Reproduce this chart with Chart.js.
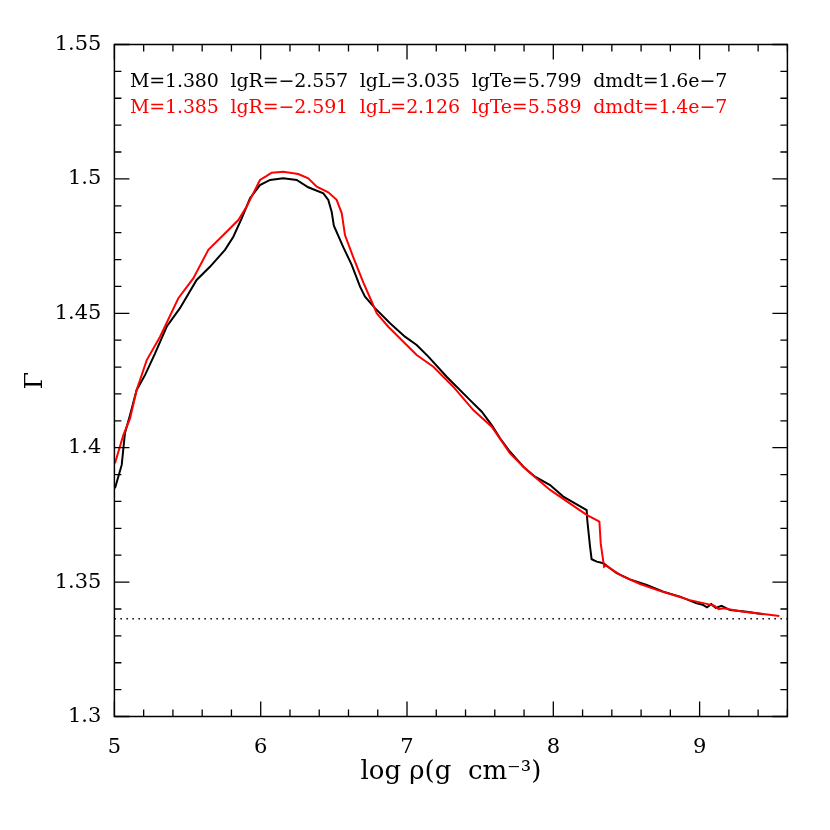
<!DOCTYPE html>
<html>
<head>
<meta charset="utf-8">
<script src="https://cdn.jsdelivr.net/npm/chart.js@4"></script>
<style>
  html, body { margin: 0; padding: 0; background: #fff; }
  #wrap { width: 830px; height: 830px; }
</style>
</head>
<body>
<div id="wrap"><canvas id="myChart" width="830" height="830"></canvas></div>
<script>
// log rho values and Gamma
const blackX = [5.004, 5.05, 5.072, 5.107, 5.152, 5.209, 5.278, 5.357, 5.448, 5.562, 5.653, 5.756, 5.813, 5.87, 5.927, 5.995, 6.064, 6.154, 6.246, 6.325, 6.428, 6.462, 6.485, 6.5, 6.565, 6.622, 6.679, 6.713, 6.781, 6.884, 6.986, 7.066, 7.146, 7.271, 7.431, 7.511, 7.579, 7.636, 7.704, 7.795, 7.875, 7.978, 8.068, 8.228, 8.232, 8.251, 8.262, 8.297, 8.342, 8.433, 8.524, 8.638, 8.752, 8.866, 8.98, 9.02, 9.05, 9.08, 9.11, 9.15, 9.208, 9.322, 9.435];
const blackY = [1.3849, 1.3936, 1.4054, 1.4122, 1.4215, 1.427, 1.4351, 1.445, 1.4519, 1.4624, 1.4673, 1.4736, 1.4785, 1.4853, 1.4928, 1.4977, 1.4996, 1.5002, 1.4996, 1.4969, 1.4946, 1.4922, 1.4878, 1.4826, 1.4745, 1.468, 1.4599, 1.4562, 1.4519, 1.4463, 1.4413, 1.4382, 1.4339, 1.4264, 1.4177, 1.4134, 1.4084, 1.4035, 1.3985, 1.3929, 1.3892, 1.3861, 1.3818, 1.3768, 1.3731, 1.3632, 1.3585, 1.3576, 1.357, 1.3533, 1.351, 1.3489, 1.3464, 1.3446, 1.3421, 1.3416, 1.3406, 1.3418, 1.3404, 1.3412, 1.3396, 1.339, 1.338];

const redX = [5.004, 5.061, 5.107, 5.152, 5.221, 5.312, 5.437, 5.539, 5.642, 5.779, 5.847, 5.904, 5.949, 5.995, 6.041, 6.075, 6.154, 6.257, 6.325, 6.383, 6.462, 6.519, 6.554, 6.576, 6.633, 6.701, 6.759, 6.793, 6.872, 6.975, 7.066, 7.18, 7.316, 7.453, 7.579, 7.704, 7.818, 7.978, 8.16, 8.228, 8.315, 8.324, 8.347, 8.36, 8.388, 8.479, 8.593, 8.707, 8.82, 8.934, 9.048, 9.1, 9.13, 9.162, 9.299, 9.435, 9.545];
const redY = [1.3942, 1.4047, 1.4109, 1.4215, 1.4326, 1.4413, 1.4556, 1.463, 1.4736, 1.481, 1.4847, 1.4897, 1.4946, 1.4996, 1.5011, 1.5023, 1.5027, 1.5018, 1.5002, 1.4971, 1.495, 1.4922, 1.4872, 1.4791, 1.4708, 1.4615, 1.4543, 1.45, 1.445, 1.4394, 1.4345, 1.4301, 1.4227, 1.414, 1.4078, 1.3979, 1.3917, 1.3843, 1.3775, 1.375, 1.3725, 1.3644, 1.3557, 1.3562, 1.3551, 1.352, 1.3493, 1.3471, 1.3452, 1.3433, 1.3419, 1.3412, 1.3399, 1.3403, 1.339, 1.3381, 1.3374];

// asymptotic Gamma dotted line
const asymX = [5, 9.6];
const asymY = [1.3364, 1.3364];

const xTickLabels = ["5", "6", "7", "8", "9"];
const yTickLabels = ["1.3", "1.35", "1.4", "1.45", "1.5", "1.55"];

const infoBlack = "M=1.380  lgR=\u22122.557  lgL=3.035  lgTe=5.799  dmdt=1.6e\u22127";
const infoRed = "M=1.385  lgR=\u22122.591  lgL=2.126  lgTe=5.589  dmdt=1.4e\u22127";

const FONT = "'DejaVu Serif', serif";

function pts(xs, ys) {
  return xs.map((x, i) => ({ x: x, y: ys[i] }));
}

function fmt(v) {
  return parseFloat(v.toFixed(2)).toString();
}

// inward ticks on all four sides plus the frame
const frameTicks = {
  id: "frameTicks",
  afterDraw(chart) {
    const ctx = chart.ctx;
    const a = chart.chartArea;
    const xs = chart.scales.x;
    const ys = chart.scales.y;
    ctx.save();
    ctx.strokeStyle = "#000";
    ctx.lineWidth = 1.3;
    ctx.beginPath();
    xs.ticks.forEach((t) => {
      const px = xs.getPixelForValue(t.value);
      const len = xTickLabels.includes(fmt(t.value)) ? 15 : 7;
      ctx.moveTo(px, a.bottom); ctx.lineTo(px, a.bottom - len);
      ctx.moveTo(px, a.top); ctx.lineTo(px, a.top + len);
    });
    ys.ticks.forEach((t) => {
      const py = ys.getPixelForValue(t.value);
      const len = yTickLabels.includes(fmt(t.value)) ? 15 : 7;
      ctx.moveTo(a.left, py); ctx.lineTo(a.left + len, py);
      ctx.moveTo(a.right, py); ctx.lineTo(a.right - len, py);
    });
    ctx.stroke();
    ctx.lineWidth = 1.5;
    ctx.strokeRect(a.left, a.top, a.right - a.left, a.bottom - a.top);

    // model parameter lines
    ctx.font = "19px " + FONT;
    ctx.textBaseline = "alphabetic";
    ctx.textAlign = "left";
    [[infoBlack, "#000", 86.5], [infoRed, "#ff0000", 113]].forEach(([txt, col, y]) => {
      ctx.letterSpacing = "0px";
      const w = ctx.measureText(txt).width;
      ctx.letterSpacing = ((597 - w) / txt.length).toFixed(2) + "px";
      ctx.fillStyle = col;
      ctx.fillText(txt, a.left + 15.5, y);
    });
    ctx.restore();
  }
};

const data = {
  datasets: [
    {
      label: "model 2",
      data: pts(redX, redY),
      borderColor: "#ff0000",
      borderWidth: 2,
      order: 0,
    },
    {
      label: "model 1",
      data: pts(blackX, blackY),
      borderColor: "#000000",
      borderWidth: 2,
      order: 1,
    },
    {
      label: "asymptote",
      data: pts(asymX, asymY),
      borderColor: "#000000",
      borderWidth: 1.5,
      borderDash: [1.5, 4.5],
      order: 2,
    },
  ],
};

const config = {
  type: "scatter",
  data: data,
  plugins: [frameTicks],
  options: {
    responsive: false,
    animation: false,
    events: [],
    showLine: true,
    elements: {
      point: { radius: 0 },
      line: { tension: 0, fill: false },
    },
    layout: { padding: { left: 0, top: 44.5, right: 42.6, bottom: 0 } },
    plugins: {
      legend: { display: false },
      tooltip: { enabled: false },
    },
    scales: {
      x: {
        type: "linear",
        min: 5,
        max: 9.6,
        grid: { display: false },
        border: { display: false },
        afterFit: (s) => { s.height = 113.5; },
        ticks: {
          stepSize: 0.2,
          autoSkip: false,
          maxRotation: 0,
          padding: 10,
          color: "#000",
          font: { family: FONT, size: 21 },
          callback: (v) => (xTickLabels.includes(fmt(v)) ? fmt(v) : ""),
        },
        title: {
          display: true,
          text: "log \u03c1(g  cm\u207b\u00b3)",
          color: "#000",
          font: { family: FONT, size: 26 },
          padding: { top: 0, bottom: 42 },
        },
      },
      y: {
        type: "linear",
        min: 1.3,
        max: 1.55,
        grid: { display: false },
        border: { display: false },
        afterFit: (s) => { s.width = 114.4; },
        ticks: {
          stepSize: 0.01,
          autoSkip: false,
          padding: 5,
          color: "#000",
          font: { family: FONT, size: 21 },
          callback: (v) => (yTickLabels.includes(fmt(v)) ? fmt(v) : ""),
        },
        title: {
          display: true,
          text: "\u0393",
          color: "#000",
          font: { family: FONT, size: 25 },
          padding: { top: 20, bottom: 0 },
        },
      },
    },
  },
};

let myChart = new Chart(document.getElementById("myChart"), config);
</script>
</body>
</html>
